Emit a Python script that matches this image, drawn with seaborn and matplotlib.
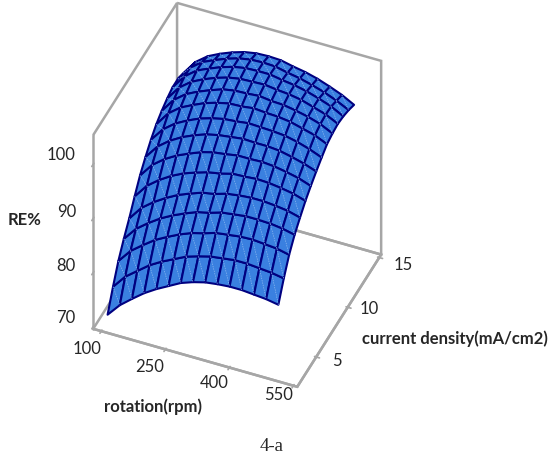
# RE% response surface
import matplotlib
matplotlib.use("Agg")
import matplotlib.pyplot as plt
from mpl_toolkits.mplot3d import proj3d
import numpy as np
import pandas as pd
import seaborn as sns
sns.set_theme(style="white")

rotation = [100, 128.6, 157.1, 185.7, 214.3, 242.9, 271.4, 300, 328.6, 357.1, 385.7, 414.3, 442.9, 471.4, 500]
density = [3, 3.86, 4.71, 5.57, 6.43, 7.29, 8.14, 9, 9.86, 10.71, 11.57, 12.43, 13.29, 14.14, 15]
re_rows = [
    [70.8, 73.2, 75.0, 76.7, 78.1, 79.3, 80.5, 81.3, 81.9, 82.2, 82.4, 82.4, 82.2, 82.0, 81.6],
    [74.4, 76.9, 78.6, 80.3, 81.6, 82.7, 83.8, 84.5, 85.1, 85.4, 85.7, 85.7, 85.5, 85.3, 84.9],
    [77.6, 80.1, 81.8, 83.4, 84.6, 85.7, 86.6, 87.2, 87.9, 88.2, 88.5, 88.6, 88.4, 88.2, 87.7],
    [80.1, 82.6, 84.3, 85.8, 87.0, 88.0, 88.9, 89.4, 90.1, 90.4, 90.7, 90.7, 90.6, 90.3, 89.8],
    [82.3, 84.9, 86.6, 88.0, 89.2, 90.1, 90.9, 91.3, 92.0, 92.3, 92.5, 92.5, 92.3, 92.0, 91.4],
    [84.8, 87.4, 89.1, 90.5, 91.6, 92.4, 93.1, 93.5, 94.1, 94.2, 94.4, 94.3, 94.0, 93.6, 92.9],
    [87.1, 89.7, 91.4, 92.7, 93.7, 94.6, 95.2, 95.5, 95.9, 95.9, 96.0, 95.8, 95.4, 94.9, 94.1],
    [88.9, 91.5, 93.2, 94.5, 95.5, 96.3, 96.8, 97.1, 97.4, 97.3, 97.3, 97.1, 96.6, 96.0, 95.2],
    [90.5, 93.1, 94.8, 96.0, 97.0, 97.7, 98.2, 98.4, 98.7, 98.6, 98.5, 98.3, 97.8, 97.1, 96.2],
    [91.8, 94.5, 96.2, 97.3, 98.3, 99.0, 99.5, 99.6, 99.9, 99.7, 99.6, 99.3, 98.7, 98.1, 97.1],
    [92.7, 95.4, 97.1, 98.2, 99.1, 99.9, 100.3, 100.4, 100.6, 100.3, 100.2, 99.8, 99.3, 98.6, 97.5],
    [93.4, 96.1, 97.8, 98.9, 99.8, 100.5, 100.9, 101.0, 101.1, 100.8, 100.6, 100.2, 99.5, 98.8, 97.7],
    [93.9, 96.6, 98.3, 99.3, 100.2, 100.9, 101.3, 101.4, 101.4, 101.0, 100.7, 100.2, 99.5, 98.7, 97.5],
    [93.9, 96.6, 98.3, 99.3, 100.2, 100.9, 101.3, 101.4, 101.3, 100.8, 100.4, 99.8, 99.1, 98.2, 97.1],
    [93.4, 96.1, 97.8, 98.9, 99.8, 100.5, 100.9, 101.0, 100.9, 100.4, 100.0, 99.4, 98.6, 97.7, 96.5],
]
rotation_ticks = [100, 250, 400, 550]
density_ticks = [5, 10, 15]
re_ticks = [70, 80, 90, 100]

grey = "#a6a6a6"
plt.rcParams["font.family"] = ["Lato", "DejaVu Sans"]

data = pd.DataFrame(re_rows, index=density, columns=rotation)
X, Y = np.meshgrid(data.columns.values, data.index.values)
Z = data.values

fig = plt.figure(figsize=(5.5, 4.56), dpi=100)
ax = fig.add_axes([-0.08, 0.057, 1, 1], projection="3d")
ax.computed_zorder = False
ax.set_proj_type("ortho")
ax.view_init(elev=42, azim=-67)
ax.set_box_aspect((222, 215, 261), zoom=0.86)
ax.plot_surface(X, Y, Z, rstride=1, cstride=1, color="#3a80e0", edgecolor="#000080",
                linewidth=1.5, shade=False, antialiased=True, zorder=2)

# faint light diagonal in every cell
n = len(rotation)
dx, dy, dz = [], [], []
for j in range(n - 1):
    for i in range(n - 1):
        dx += [X[j + 1, i], X[j, i + 1], np.nan]
        dy += [Y[j + 1, i], Y[j, i + 1], np.nan]
        dz += [Z[j + 1, i], Z[j, i + 1], np.nan]
ax.plot(dx, dy, dz, color="#8cb8f0", linewidth=0.5, linestyle=(0, (2, 1.5)), zorder=3)

xlim, ylim, zlim = (81, 559), (2, 15.3), (69.6, 105.4)
ax.set_xlim(*xlim)
ax.set_ylim(*ylim)
ax.set_zlim(*zlim)
ax.set_xticks(rotation_ticks)
ax.set_yticks(density_ticks)
ax.set_zticks(re_ticks)
ax.set_xticklabels([])
ax.set_yticklabels([])
ax.set_zticklabels([])
ax.tick_params(color=grey)
ax.grid(False)
for axis in [ax.xaxis, ax.yaxis, ax.zaxis]:
    axis.set_pane_color((1, 1, 1, 1))
    axis.pane.set_alpha(None)
    axis.pane.set_facecolor("none")
    axis.pane.set_edgecolor(grey)
    axis.pane.set_linewidth(1.8)
    axis.line.set_color(grey)
    axis.line.set_linewidth(1.8)
ax.zaxis.set_ticks_position("lower")


def tick_text(x, y, z, label, shift):
    # 3d tick labels cannot be moved freely, so annotate from the projected tick
    px, py, _ = proj3d.proj_transform(x, y, z, ax.get_proj())
    ax.annotate(label, xy=(px, py), xytext=shift, textcoords="offset pixels", ha="center",
                va="center", fontsize=12, color="#262626", annotation_clip=False)


for tick, shift in zip(rotation_ticks, [(-14, -17), (-16, -17), (-15, -14), (-15, -8)]):
    tick_text(tick, ylim[0], zlim[0], str(tick), shift)
for tick, shift in zip(density_ticks, [(21, -3), (22, -1), (24, -6)]):
    tick_text(xlim[1], tick, zlim[0], str(tick), shift)
for tick, shift in zip(re_ticks, [(-27, 10), (-27, 8), (-26, 7), (-32, 10)]):
    tick_text(xlim[0], ylim[0], tick, str(tick), shift)

fig.text(0.045, 0.5175, "RE%", fontsize=12, fontweight="bold", ha="center", va="center")
fig.text(0.278, 0.108, "rotation(rpm)", fontsize=12, fontweight="bold", ha="center", va="center")
fig.text(0.828, 0.257, "current density(mA/cm2)", fontsize=12, fontweight="bold", ha="center", va="center")
fig.text(0.493, 0.02, "4-a", fontsize=13.5, family="Liberation Serif", ha="center", va="center")

fig.savefig("out.png", dpi=100)
